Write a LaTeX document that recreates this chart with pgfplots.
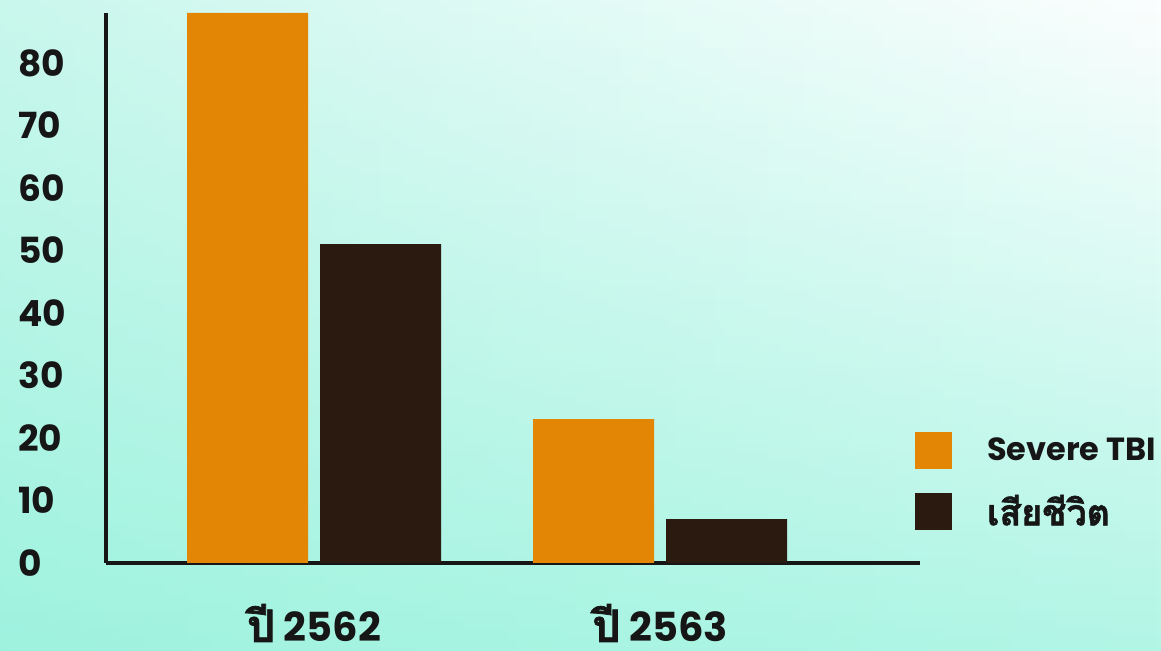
\documentclass[border=0pt]{standalone}
\usepackage{fontspec}
\usepackage{pgfplots}
\pgfplotsset{compat=1.18}
\usetikzlibrary{fadings}
\setmainfont{Poppins}
\newfontfamily\pop{Poppins}
\newfontfamily\thai[Script=Thai, Scale=1.12, FakeBold=1.6]{Loma}

\definecolor{tbi}{HTML}{E38605}
\definecolor{death}{HTML}{2A1A10}
\definecolor{bgtop}{HTML}{FBFEFE}
\definecolor{bgbot}{HTML}{B2F6E6}
\definecolor{bgteal}{HTML}{7FEDD3}
\definecolor{ink}{HTML}{161616}

\pgfplotsset{
  sqlegend/.style={legend image code/.code={\path[##1] (0pt,-9.25pt) rectangle (18.5pt,9.25pt);}}
}

\begin{document}
\begin{tikzpicture}
\useasboundingbox (0,0) rectangle (580.5pt,325.5pt);
% soft teal-to-white backdrop
\shade[top color=bgtop, bottom color=bgbot] (0,0) rectangle (580.5pt,325.5pt);
\fill[bgteal, opacity=0.4, path fading=east] (0,0) rectangle (580.5pt,325.5pt);
\begin{axis}[
  at={(53pt,44pt)}, anchor=south west,
  scale only axis, width=407pt, height=275pt,
  xmin=-0.601, xmax=1.751, ymin=0, ymax=88,
  axis x line*=bottom, axis y line*=left,
  axis line style={line width=2pt, color=ink},
  major tick length=0pt,
  ybar=6pt, bar width=60.5pt,
  ytick={0,10,...,80},
  xtick={0,1},
  xticklabels={{\thai ปี} 2562, {\thai ปี} 2563},
  /pgf/number format/assume math mode=true,
  yticklabel style={anchor=west, xshift=-44pt, inner sep=0pt, text=ink,
    font=\pop\bfseries\fontsize{18}{20}\selectfont},
  xticklabel style={anchor=base, yshift=-39.5pt, inner sep=0pt,
    text depth=0pt, text=ink,
    font=\pop\bfseries\fontsize{20}{24}\selectfont},
  legend style={at={(rel axis cs:0.994,0.238)}, anchor=north west,
    draw=none, fill=none, inner sep=0pt, outer sep=0pt,
    row sep=12pt, column sep=17.5pt,
    nodes={inner sep=0pt, text=ink},
    font=\pop\bfseries\fontsize{16}{18}\selectfont},
  legend cell align=left,
]
\addplot[fill=tbi, draw=none, sqlegend] coordinates {(0,88) (1,23)};
\addlegendentry{Severe TBI}
\addplot[fill=death, draw=none, sqlegend] coordinates {(0,51) (1,7)};
\addlegendentry{{\thai เสียชีวิต}}
\end{axis}
\end{tikzpicture}
\end{document}
